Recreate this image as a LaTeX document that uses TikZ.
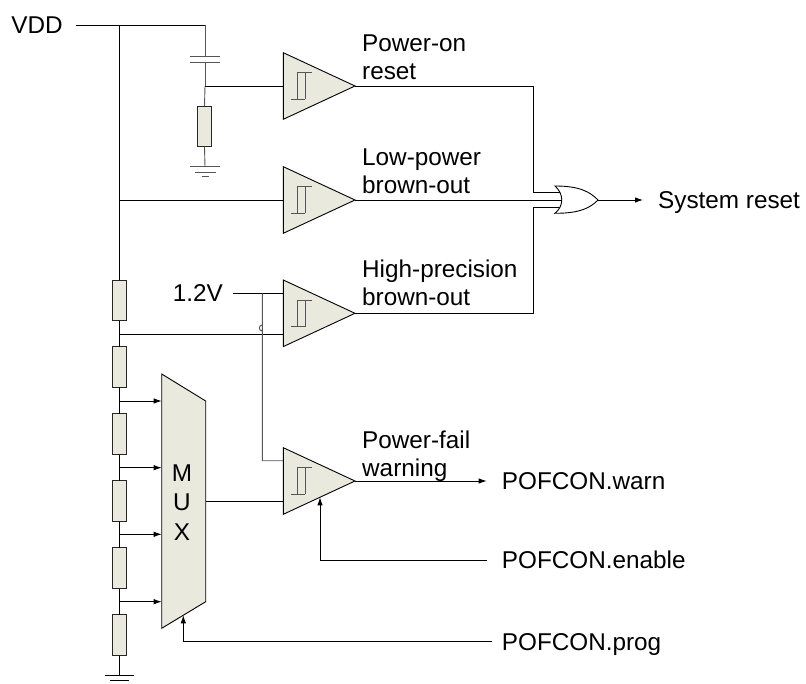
\documentclass[tikz,border=0pt]{standalone}
\usepackage{fontspec}
\setmainfont{Liberation Sans}
\usetikzlibrary{arrows.meta}
\definecolor{fillc}{RGB}{233,233,221}
\definecolor{gline}{RGB}{85,85,85}
\tikzset{
  wire/.style={draw=black,line width=0.9pt},
  gwire/.style={draw=gline,line width=0.9pt},
  lbl/.style={inner sep=0pt,font=\fontsize{24.3}{28}\selectfont},
  arr/.style={-{Latex[length=8pt,width=5.5pt]}},
  res/.style={draw=black!85,fill=fillc,line width=0.9pt,minimum width=14.4pt,minimum height=40.6pt,inner sep=0pt,outer sep=0pt},
  comparator/.pic={
    \filldraw[fill=fillc,draw=black,line width=0.9pt] (0,-33.3) -- (71.7,0) -- (0,33.3) -- cycle;
    \draw[gline,line width=0.9pt] (14,-13.3) -- (29,-13.3) (7.4,13.3) -- (21.7,13.3) (14,-13.3) -- (14,13.3) (21.7,-13.3) -- (21.7,13.3);
  }
}
\begin{document}
\begin{tikzpicture}[x=1pt,y=-1pt]
\useasboundingbox (0,0) rectangle (806,684);

% comparators
\coordinate (c1) at (283.3,86);
\coordinate (c2) at (283.3,200);
\coordinate (c3) at (283.3,313.3);
\coordinate (c4) at (283.3,481);
\coordinate (o1) at (355,86);
\coordinate (o2) at (355,200);
\coordinate (o3) at (355,313.3);
\coordinate (o4) at (355,481);
\coordinate (c3a) at (283.3,293.3);
\coordinate (c3b) at (283.3,334);
\coordinate (c4a) at (283.3,460.7);
\coordinate (c4b) at (283.3,501.5);

% VDD and main rail
\node[lbl,anchor=east] (vdd) at (63,25) {VDD};
\coordinate (vddL) at (76,25);
\coordinate (top) at (119.5,25);
\coordinate (vddR) at (205,25);
\coordinate (capT) at (205,56);
\coordinate (capB) at (205,62.7);
\coordinate (n1) at (205,86);
\coordinate (g0) at (205,166.7);
\draw[wire] (vddL) -- (vddR);
\draw[gwire] (vddR) -- (capT);
\draw[gwire] (190,56) -- (220,56) (190,62.7) -- (220,62.7);
\draw[gwire] (capB) -- (n1);
\node[res] (r0) at (204.5,126.4) {};
\draw[wire] (n1) -- (c1);
\draw[gwire] (n1) -- (r0.north);
\draw[gwire] (r0.south) -- (g0);
\draw[gwire] (190,166.7) -- (220,166.7) (194.5,172.7) -- (215.5,172.7) (201.5,176.7) -- (208.5,176.7);

% resistor chain
\node[res] (ra) at (119.5,300.4) {};
\node[res] (rb) at (119.5,367.2) {};
\node[res] (rc) at (119.5,434.2) {};
\node[res] (rd) at (119.5,501.2) {};
\node[res] (re) at (119.5,568.2) {};
\node[res] (rf) at (119.5,635.2) {};
\coordinate (j2) at (119.5,200);
\coordinate (t0) at (119.5,334);
\coordinate (t1) at (119.5,401);
\coordinate (t2) at (119.5,467.7);
\coordinate (t3) at (119.5,534.3);
\coordinate (t4) at (119.5,601.7);
\coordinate (g1) at (119.5,675);
\draw[wire] (top) -- (ra.north);
\draw[wire] (ra.south) -- (rb.north) (rb.south) -- (rc.north) (rc.south) -- (rd.north) (rd.south) -- (re.north) (re.south) -- (rf.north) (rf.south) -- (g1);
\draw[wire] (105,675) -- (134,675) (110,680.5) -- (129,680.5);
\draw[wire] (j2) -- (c2);

% MUX
\coordinate (m1) at (161.7,401);
\coordinate (m2) at (161.7,467.7);
\coordinate (m3) at (161.7,534.3);
\coordinate (m4) at (161.7,601.7);
\coordinate (mo) at (205.7,501.5);
\coordinate (mp) at (183.3,615.3);
\filldraw[fill=fillc,draw=black,line width=0.9pt] (161.7,374) -- (205.7,401) -- (205.7,601.7) -- (161.7,628.3) -- cycle;
\node[lbl] (mM) at (182,473) {M};
\node[lbl] (mU) at (182,502.5) {U};
\node[lbl] (mX) at (182,532) {X};
\draw[wire,arr] (t1) -- (m1);
\draw[wire,arr] (t2) -- (m2);
\draw[wire,arr] (t3) -- (m3);
\draw[wire,arr] (t4) -- (m4);
\draw[wire] (mo) -- (c4b);

% 1.2V reference
\node[lbl,anchor=base east] (ref) at (223,301.6) {1.2V};
\coordinate (refL) at (232.7,293.3);
\coordinate (rj) at (262.3,293.3);
\coordinate (rk) at (262.3,460.7);
\draw[wire] (refL) -- (c3a);
\draw[wire] (t0) -- (c3b);
\draw[gwire] (rj) -- (262.3,331) arc[start angle=270,end angle=90,radius=3pt] -- (rk) -- (c4a);

\pic at (c1) {comparator};
\pic at (c2) {comparator};
\pic at (c3) {comparator};
\pic at (c4) {comparator};

% labels
\node[lbl,anchor=base west] (l1a) at (362,52) {Power-on};
\node[lbl,anchor=base west] (l1b) at (362,80) {reset};
\node[lbl,anchor=base west] (l2a) at (362,166) {Low-power};
\node[lbl,anchor=base west] (l2b) at (362,193.5) {brown-out};
\node[lbl,anchor=base west] (l3a) at (362,278) {High-precision};
\node[lbl,anchor=base west] (l3b) at (362,305.5) {brown-out};
\node[lbl,anchor=base west] (l4a) at (362,449) {Power-fail};
\node[lbl,anchor=base west] (l4b) at (362,476.5) {warning};

% OR gate
\coordinate (k1) at (533.3,86);
\coordinate (k3) at (533.3,313.3);
\coordinate (i1) at (562,192.7);
\coordinate (i2) at (564,200);
\coordinate (i3) at (562,207.3);
\coordinate (ot) at (598,200);
\coordinate (oa) at (643,200);
\draw[wire] (o1) -- (k1) |- (i1);
\draw[wire] (o2) -- (i2);
\draw[wire] (o3) -- (k3) |- (i3);
\filldraw[fill=white,draw=black,line width=0.9pt] (555,186) .. controls (580,186) and (590,192) .. (ot) .. controls (590,208) and (580,213.3) .. (555,213.3) .. controls (564,206) and (564,194) .. (555,186) -- cycle;
\draw[wire,arr] (ot) -- (oa);
\node[lbl,anchor=base west] (sys) at (658,208.5) {System reset};

% POFCON
\node[lbl,anchor=base west] (warn) at (501.7,489.5) {POFCON.warn};
\node[lbl,anchor=base west] (en) at (501.7,568.5) {POFCON.enable};
\node[lbl,anchor=base west] (prog) at (501.7,650) {POFCON.prog};
\coordinate (wa) at (486.7,481);
\coordinate (eL) at (487,560);
\coordinate (eC) at (320,497.3);
\coordinate (pL) at (491.7,641.7);
\draw[wire,arr] (o4) -- (wa);
\draw[wire,arr] (eL) -| (eC);
\draw[wire,arr] (pL) -| (mp);
\end{tikzpicture}
\end{document}
